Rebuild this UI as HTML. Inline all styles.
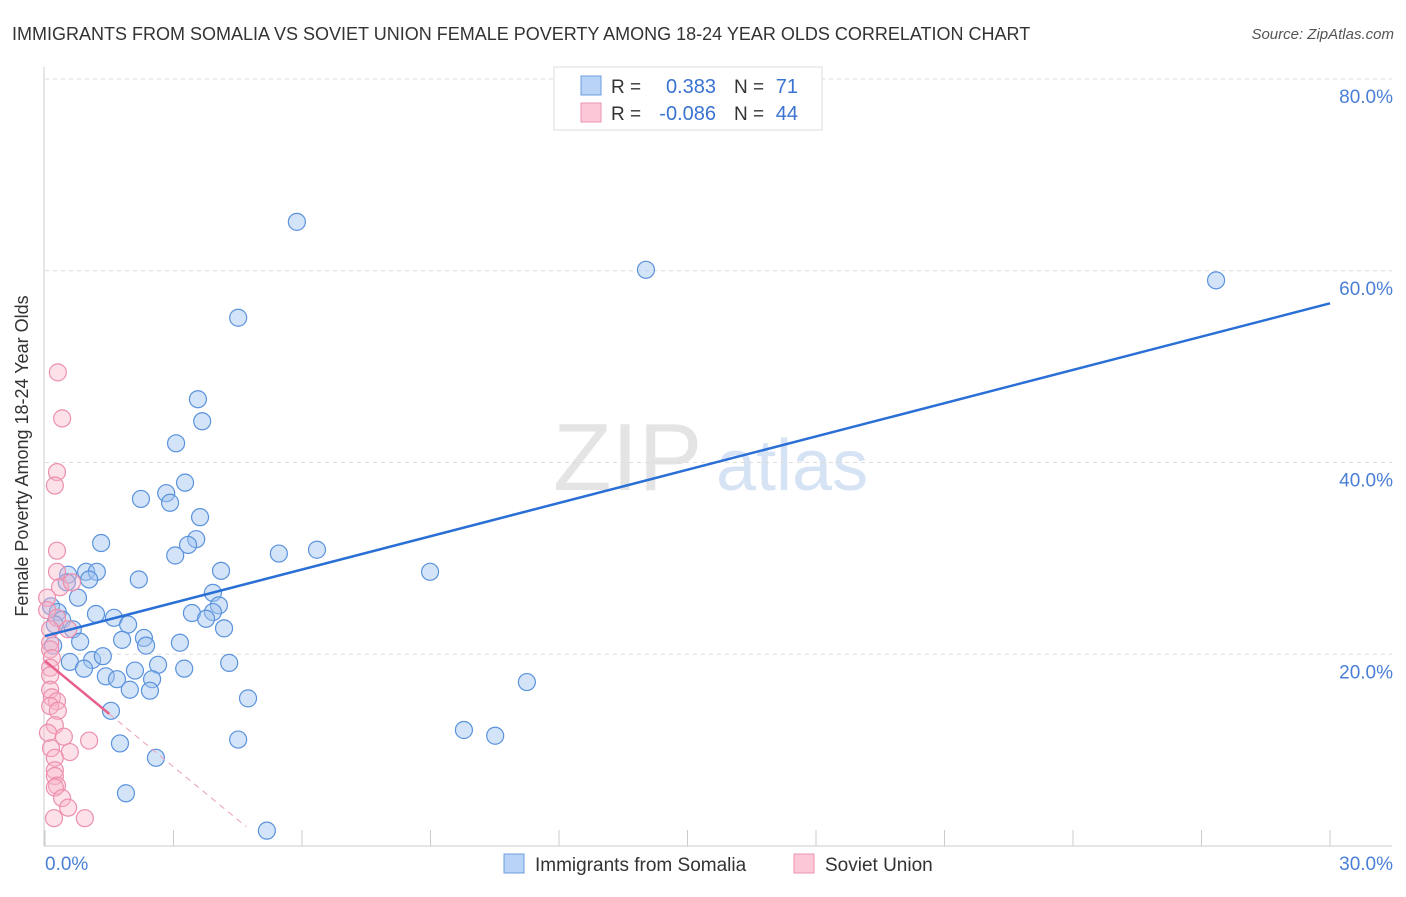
<!DOCTYPE html>
<html><head><meta charset="utf-8"><style>
body{margin:0;background:#fff;font-family:"Liberation Sans",sans-serif;}
svg text{font-family:"Liberation Sans",sans-serif;}
</style></head><body>
<svg id="chart" width="1406" height="892" xmlns="http://www.w3.org/2000/svg">
<text x="12" y="40" font-size="18" fill="#333">IMMIGRANTS FROM SOMALIA VS SOVIET UNION FEMALE POVERTY AMONG 18-24 YEAR OLDS CORRELATION CHART</text>
<text x="1394" y="39" font-size="15" fill="#555" font-style="italic" text-anchor="end">Source: ZipAtlas.com</text>
<g>
<text x="553" y="490" font-size="96" font-family="Liberation Serif" fill="#e4e4e4">ZIP</text>
<text x="716" y="490" font-size="72" fill="#d6e3f5">atlas</text>
</g>
<g id="grid"></g>
<g id="axes"></g>
<g id="pts"></g>
<g id="lines"></g>
<text x="28" y="456" font-size="18" fill="#333" text-anchor="middle" transform="rotate(-90 28 456)">Female Poverty Among 18-24 Year Olds</text>
<g>
<rect x="554" y="67" width="268" height="63" fill="#fff" stroke="#ddd"/>
<rect x="581" y="76" width="20" height="19" fill="#b8d3f5" stroke="#6c9de0"/>
<rect x="581" y="103" width="20" height="19" fill="#fcc8d8" stroke="#ec93b0"/>
<text x="611" y="93" font-size="19" fill="#333">R =</text>
<text x="716" y="93" font-size="20" fill="#3a73d1" text-anchor="end">0.383</text>
<text x="734" y="93" font-size="19" fill="#333">N =</text>
<text x="798" y="93" font-size="20" fill="#3a73d1" text-anchor="end">71</text>
<text x="611" y="120" font-size="19" fill="#333">R =</text>
<text x="716" y="120" font-size="20" fill="#3a73d1" text-anchor="end">-0.086</text>
<text x="734" y="120" font-size="19" fill="#333">N =</text>
<text x="798" y="120" font-size="20" fill="#3a73d1" text-anchor="end">44</text>
</g>
<g>
<rect x="504" y="854" width="20" height="19" fill="#b8d3f5" stroke="#6c9de0"/>
<text x="535" y="871" font-size="19" fill="#333">Immigrants from Somalia</text>
<rect x="794" y="854" width="20" height="19" fill="#fcc8d8" stroke="#ec93b0"/>
<text x="825" y="871" font-size="19" fill="#333">Soviet Union</text>
</g>
</svg>
<script>
const blueX=[5.88,14.03,27.34,4.51,3.57,3.67,3.06,3.27,2.24,2.83,2.92,3.62,1.31,3.53,3.34,3.04,5.46,6.35,8.99,0.54,0.96,1.21,1.03,2.19,4.11,0.51,0.77,3.92,4.06,3.92,3.43,3.76,1.19,1.61,0.14,0.30,0.40,0.23,0.65,1.94,4.18,1.80,2.31,2.36,3.15,0.82,0.19,0.58,1.10,1.35,4.30,2.64,3.25,2.10,0.91,1.42,1.68,2.50,1.98,2.45,11.25,4.74,1.54,9.78,10.51,1.75,4.51,2.59,1.89,5.18];
const blueY=[65.1,60.1,59.0,55.1,46.6,44.3,42.0,37.9,36.2,36.8,35.8,34.3,31.6,32.0,31.4,30.3,30.5,30.9,28.6,28.3,28.6,28.6,27.8,27.8,28.7,27.5,25.9,26.4,25.1,24.4,24.3,23.7,24.2,23.8,25.0,24.4,23.6,23.1,22.6,23.1,22.7,21.5,21.7,20.9,21.2,21.3,20.9,19.2,19.4,19.8,19.1,18.9,18.5,18.3,18.5,17.7,17.4,17.4,16.3,16.2,17.1,15.4,14.1,12.1,11.5,10.7,11.1,9.2,5.5,1.6];
const pinkX=[0.30,0.40,0.28,0.23,0.28,0.28,0.35,0.63,0.05,0.05,0.28,0.12,0.54,0.12,0.12,0.16,0.12,0.12,0.12,0.16,0.28,0.12,0.30,0.23,0.07,0.44,1.03,0.14,0.58,0.23,0.23,0.23,0.28,0.23,0.40,0.54,0.21,0.93];
const pinkY=[49.4,44.6,39.0,37.6,30.8,28.6,27.0,27.5,25.9,24.6,23.8,22.6,22.6,21.2,20.5,19.6,18.6,17.8,16.3,15.5,15.1,14.6,14.1,12.6,11.8,11.4,11.0,10.2,9.8,9.2,7.9,7.3,6.3,6.1,5.0,4.0,2.9,2.9];
const yTicks=[20,40,60,80];
const yTickLabels=["20.0%","40.0%","60.0%","80.0%"];
const xTicks=[0,3,6,9,12,15,18,21,24,27,30];
const xEndLabels=["0.0%","30.0%"];
const blueTrend=[21.9,56.6];      // y at x=0 and x=30
const pinkTrend=[19.3,-3.68];     // intercept, slope
const pinkSolidEnd=1.5, pinkDashEnd=4.7;

const NS="http://www.w3.org/2000/svg";
const sx=v=>45+v/30*1285;
const sy=v=>846-v/80*767;
function mk(tag,attrs,parent){const e=document.createElementNS(NS,tag);for(const k in attrs)e.setAttribute(k,attrs[k]);parent.appendChild(e);return e;}
const grid=document.getElementById('grid'),axes=document.getElementById('axes'),pts=document.getElementById('pts'),lines=document.getElementById('lines');
yTicks.forEach((t,i)=>{
 const g=mk('line',{x1:45,x2:1392,y1:sy(t),y2:sy(t),stroke:'#ddd','stroke-dasharray':'4,4'},grid);
 
 
 const l=mk('text',{x:1393,y:sy(t)+24,'font-size':19,fill:'#4a7fd6','text-anchor':'end'},axes);
 l.textContent=yTickLabels[i];
 
 
});
let a=mk('line',{x1:44,x2:44,y1:67,y2:846,stroke:'#ccc'},axes);


a=mk('line',{x1:44,x2:1392,y1:846,y2:846,stroke:'#ccc'},axes);


xTicks.forEach(t=>{
 const k=mk('line',{x1:sx(t),x2:sx(t),y1:830,y2:846,stroke:'#ccc'},axes);
 
 
});
let xl=mk('text',{x:45,y:870,'font-size':19,fill:'#4a7fd6'},axes);xl.textContent=xEndLabels[0];


xl=mk('text',{x:1393,y:870,'font-size':19,fill:'#4a7fd6','text-anchor':'end'},axes);xl.textContent=xEndLabels[1];


blueX.forEach((x,i)=>{
 const c=mk('circle',{cx:sx(x),cy:sy(blueY[i]),r:8.5,fill:'rgba(160,196,240,0.45)',stroke:'#5a92dc','stroke-width':1.2},pts);
 
 
});
pinkX.forEach((x,i)=>{
 const c=mk('circle',{cx:sx(x),cy:sy(pinkY[i]),r:8.5,fill:'rgba(250,180,200,0.4)',stroke:'#ec8fae','stroke-width':1.2},pts);
 
 
});
let t=mk('line',{x1:sx(0),y1:sy(blueTrend[0]),x2:sx(30),y2:sy(blueTrend[1]),stroke:'#2a6fd6','stroke-width':2.5},lines);


const py=x=>pinkTrend[0]+pinkTrend[1]*x;
t=mk('line',{x1:sx(0),y1:sy(py(0)),x2:sx(pinkSolidEnd),y2:sy(py(pinkSolidEnd)),stroke:'#e8608c','stroke-width':2.5},lines);


t=mk('line',{x1:sx(pinkSolidEnd),y1:sy(py(pinkSolidEnd)),x2:sx(pinkDashEnd),y2:sy(py(pinkDashEnd)),stroke:'#eaa0b8','stroke-width':1,'stroke-dasharray':'6,5'},lines);


</script>
</body></html>
